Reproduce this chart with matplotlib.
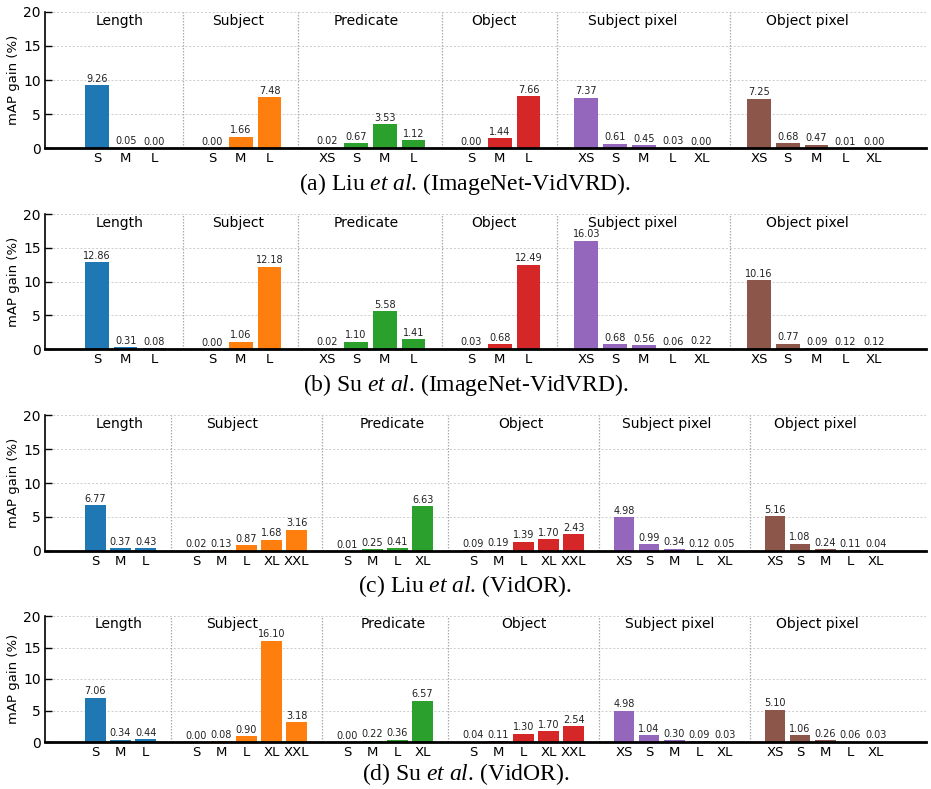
import matplotlib
matplotlib.use("Agg")
import matplotlib.pyplot as plt
import numpy as np

plt.rcParams['font.family'] = ['DejaVu Sans']
plt.rcParams['mathtext.fontset'] = 'custom'
plt.rcParams['mathtext.rm'] = 'Liberation Serif'
plt.rcParams['mathtext.it'] = 'Liberation Serif:italic'

groups = ["Length", "Subject", "Predicate", "Object", "Subject pixel", "Object pixel"]
group_colors = ['#1f77b4', '#ff7f0e', '#2ca02c', '#d62728', '#9467bd', '#8c564b']

# ---- categories ----
vidvrd_cats = [["S", "M", "L"], ["S", "M", "L"], ["XS", "S", "M", "L"],
               ["S", "M", "L"], ["XS", "S", "M", "L", "XL"], ["XS", "S", "M", "L", "XL"]]
vidor_cats = [["S", "M", "L"], ["S", "M", "L", "XL", "XXL"], ["S", "M", "L", "XL"],
              ["S", "M", "L", "XL", "XXL"], ["XS", "S", "M", "L", "XL"], ["XS", "S", "M", "L", "XL"]]

# ---- values ----
a_vals = [[9.26, 0.05, 0.00], [0.00, 1.66, 7.48], [0.02, 0.67, 3.53, 1.12],
          [0.00, 1.44, 7.66], [7.37, 0.61, 0.45, 0.03, 0.00], [7.25, 0.68, 0.47, 0.01, 0.00]]
b_vals = [[12.86, 0.31, 0.08], [0.00, 1.06, 12.18], [0.02, 1.10, 5.58, 1.41],
          [0.03, 0.68, 12.49], [16.03, 0.68, 0.56, 0.06, 0.22], [10.16, 0.77, 0.09, 0.12, 0.12]]
c_vals = [[6.77, 0.37, 0.43], [0.02, 0.13, 0.87, 1.68, 3.16], [0.01, 0.25, 0.41, 6.63],
          [0.09, 0.19, 1.39, 1.70, 2.43], [4.98, 0.99, 0.34, 0.12, 0.05], [5.16, 1.08, 0.24, 0.11, 0.04]]
d_vals = [[7.06, 0.34, 0.44], [0.00, 0.08, 0.90, 16.10, 3.18], [0.00, 0.22, 0.36, 6.57],
          [0.04, 0.11, 1.30, 1.70, 2.54], [4.98, 1.04, 0.30, 0.09, 0.03], [5.10, 1.06, 0.26, 0.06, 0.03]]

captions = [r"(a) Liu $\mathit{et\ al}$. (ImageNet-VidVRD).",
            r"(b) Su $\mathit{et\ al}$. (ImageNet-VidVRD).",
            r"(c) Liu $\mathit{et\ al}$. (VidOR).",
            r"(d) Su $\mathit{et\ al}$. (VidOR)."]

# layout
W, H = 931, 789
fig = plt.figure(figsize=(W / 100, H / 100), dpi=100)
left_px, right_px = 45, 926
panel_px = [(12, 148), (214, 349), (415, 551), (616, 742)]
caption_px = [184, 385, 586, 774]
label_offsets = [[-0.2, -0.1, -0.16, -0.2, -0.4, -0.33],
                 [-0.2, -0.1, -0.16, -0.2, -0.4, -0.33],
                 [-0.02, -0.55, 0.3, -0.1, -0.3, -0.4],
                 [-0.09, -0.56, 0.34, 0.02, -0.2, -0.3]]

panels = [(vidvrd_cats, a_vals), (vidvrd_cats, b_vals), (vidor_cats, c_vals), (vidor_cats, d_vals)]

for pi, (cats, vals) in enumerate(panels):
    top, bot = panel_px[pi]
    ax = fig.add_axes([left_px / W, 1 - bot / H, (right_px - left_px) / W, (bot - top) / H])
    pos = 0
    ticks, ticklabels = [], []
    for gi, (gc, gv) in enumerate(zip(cats, vals)):
        xs = pos + np.arange(len(gc))
        ax.bar(xs, gv, width=0.82, color=group_colors[gi], zorder=3)
        for x, v in zip(xs, gv):
            ax.annotate(f"{v:.2f}", (x, v), xytext=(0, 1), textcoords='offset points',
                        ha='center', va='bottom', fontsize=7, color='#222222', zorder=4)
        ticks.extend(xs)
        ticklabels.extend(gc)
        center = xs.mean() + label_offsets[pi][gi]
        ax.text(center, 0.935, groups[gi], transform=ax.get_xaxis_transform(),
                ha='center', va='center', fontsize=10)
        pos += len(gc) + 1
        if gi < len(cats) - 1:
            ax.axvline(pos - 1, color='#aaaaaa', linestyle=(0, (1.2, 1.2)), lw=0.9, zorder=1)
    ax.set_ylim(0, 20)
    ax.set_yticks([0, 5, 10, 15, 20])
    ax.set_xticks(ticks)
    ax.set_xticklabels(ticklabels)
    ax.margins(x=0.05)
    ax.yaxis.grid(True, linestyle=(0, (2, 2)), color='#cccccc', lw=0.7, zorder=0)
    ax.set_axisbelow(True)
    for s in ['top', 'right']:
        ax.spines[s].set_visible(False)
    ax.spines['bottom'].set_linewidth(2)
    ax.spines['bottom'].set_zorder(5)
    ax.spines['left'].set_linewidth(1.2)
    ax.tick_params(axis='y', direction='in', length=5, width=1, labelsize=10, pad=3)
    ax.tick_params(axis='x', length=0, labelsize=9.5, pad=3)
    ax.set_ylabel("mAP gain (%)", fontsize=9.5, labelpad=2)
    fig.text(0.5, 1 - caption_px[pi] / H, captions[pi], ha='center', va='center',
             fontsize=17, family='Liberation Serif')

fig.savefig("out.png", dpi=100)
